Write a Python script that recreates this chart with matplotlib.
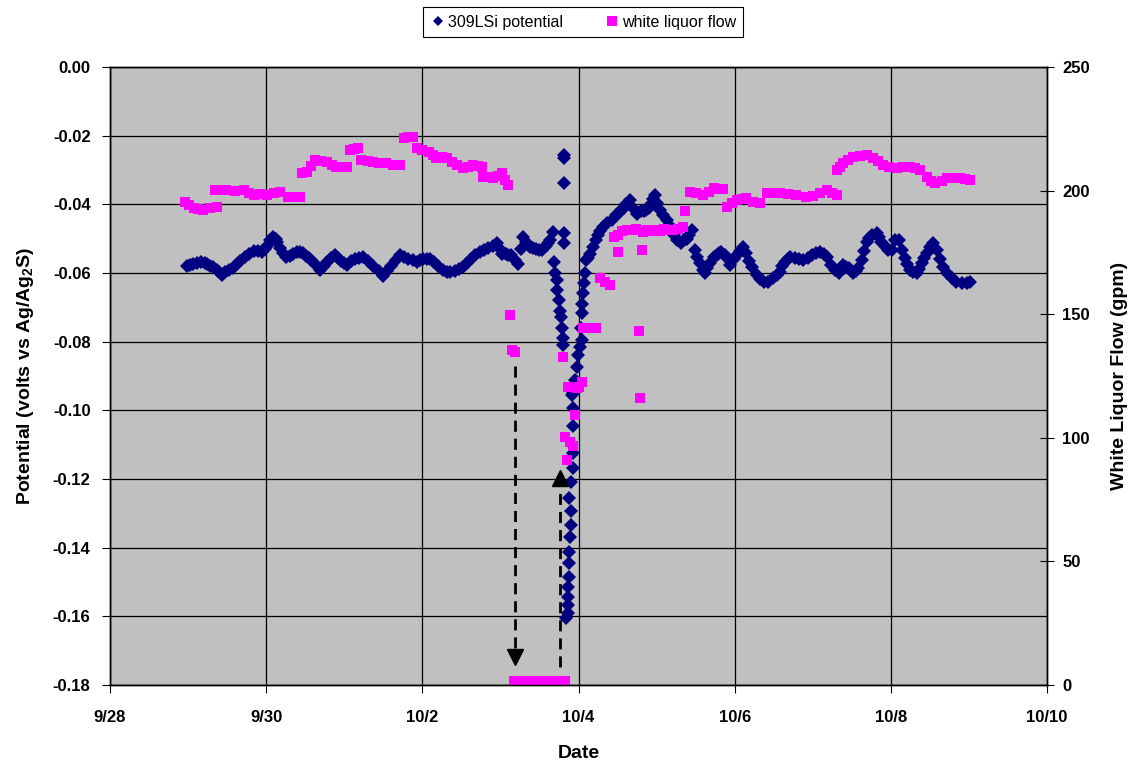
import numpy as np
import pandas as pd
import matplotlib
matplotlib.use('Agg')
import matplotlib.pyplot as plt

plt.rcParams['font.family'] = ['Liberation Sans', 'DejaVu Sans']
plt.rcParams['font.weight'] = 'bold'
plt.rcParams['axes.labelweight'] = 'bold'
plt.rcParams['mathtext.fontset'] = 'custom'
plt.rcParams['mathtext.rm'] = 'Liberation Sans:bold'
plt.rcParams['mathtext.default'] = 'rm'

#%% data, days counted from 9/28 00:00
start = pd.Timestamp('2005-09-28')

# 309LSi potential before the shutdown (volts vs Ag/Ag2S)
pot_day_a = [0.98, 1.02, 1.06, 1.11, 1.17, 1.21, 1.24, 1.28, 1.32, 1.37,
             1.40, 1.43, 1.47, 1.52, 1.57, 1.62, 1.67, 1.73, 1.78, 1.84,
             1.89, 1.94, 1.98, 2.01, 2.05, 2.09, 2.12, 2.14, 2.18, 2.22,
             2.26, 2.30, 2.34, 2.39, 2.43, 2.47, 2.51, 2.55, 2.58, 2.64,
             2.69, 2.74, 2.78, 2.83, 2.88, 2.92, 2.96, 3.00, 3.03, 3.09,
             3.14, 3.19, 3.24, 3.30, 3.37, 3.44, 3.50, 3.55, 3.60, 3.66,
             3.71, 3.77, 3.82, 3.88, 3.93, 3.97, 4.01, 4.06, 4.10, 4.15,
             4.20, 4.26, 4.31, 4.36, 4.42, 4.47, 4.52, 4.57, 4.62, 4.68,
             4.74, 4.79, 4.84, 4.90, 4.95, 4.99, 5.02, 5.07, 5.10, 5.14,
             5.19, 5.23, 5.26, 5.29, 5.33, 5.38, 5.42, 5.46, 5.50, 5.53,
             5.58, 5.61, 5.64, 5.67]
pot_volt_a = [-0.0580, -0.0578, -0.0575, -0.0570, -0.0567, -0.0570, -0.0575, -0.0580, -0.0582, -0.0592,
              -0.0598, -0.0605, -0.0598, -0.0592, -0.0584, -0.0575, -0.0565, -0.0553, -0.0545, -0.0535,
              -0.0535, -0.0538, -0.0530, -0.0520, -0.0505, -0.0496, -0.0502, -0.0510, -0.0528, -0.0542,
              -0.0553, -0.0550, -0.0545, -0.0540, -0.0538, -0.0543, -0.0550, -0.0556, -0.0562, -0.0578,
              -0.0591, -0.0580, -0.0568, -0.0556, -0.0548, -0.0556, -0.0565, -0.0572, -0.0577, -0.0566,
              -0.0560, -0.0556, -0.0553, -0.0565, -0.0580, -0.0595, -0.0608, -0.0595, -0.0580, -0.0562,
              -0.0548, -0.0553, -0.0558, -0.0563, -0.0567, -0.0563, -0.0560, -0.0558, -0.0558, -0.0568,
              -0.0580, -0.0590, -0.0598, -0.0596, -0.0594, -0.0588, -0.0582, -0.0572, -0.0560, -0.0548,
              -0.0538, -0.0533, -0.0528, -0.0521, -0.0514, -0.0530, -0.0545, -0.0545, -0.0547, -0.0548,
              -0.0562, -0.0575, -0.0530, -0.0496, -0.0510, -0.0523, -0.0527, -0.0530, -0.0532, -0.0533,
              -0.0520, -0.0512, -0.0504, -0.0480]

# potential during the dip
pot_day_b = [5.68, 5.70, 5.72, 5.73, 5.75, 5.76, 5.78, 5.79, 5.80, 5.80,
             5.81, 5.81, 5.81, 5.81, 5.81,
             5.92, 5.93, 5.93, 5.93, 5.93, 5.91, 5.88, 5.90, 5.90, 5.89,
             5.88, 5.88, 5.88, 5.86, 5.86, 5.87, 5.86, 5.84]
pot_volt_b = [-0.0567, -0.0600, -0.0620, -0.0650, -0.0680, -0.0710, -0.0727, -0.0760, -0.0790, -0.0810,
              -0.0256, -0.0266, -0.0339, -0.0483, -0.0512,
              -0.0955, -0.0994, -0.1046, -0.1125, -0.1167, -0.1208, -0.1256, -0.1292, -0.1334, -0.1368,
              -0.1412, -0.1446, -0.1485, -0.1514, -0.1543, -0.1567, -0.1591, -0.1606]

# potential after restart
pot_day_c = [5.93, 5.96, 5.98, 5.99, 6.02, 6.04, 6.03, 6.04, 6.05, 6.06,
             6.07, 6.08, 6.10, 6.12, 6.15, 6.19, 6.22, 6.25, 6.28, 6.32,
             6.37, 6.43, 6.48, 6.52, 6.55, 6.58, 6.61, 6.66, 6.70, 6.75,
             6.80, 6.84, 6.87, 6.90, 6.93, 6.96, 6.98, 7.01, 7.04, 7.08,
             7.13, 7.16, 7.19, 7.22, 7.26, 7.31, 7.35, 7.39, 7.42, 7.45,
             7.49, 7.52, 7.55, 7.59, 7.62, 7.65, 7.68, 7.73, 7.77, 7.80,
             7.83, 7.87, 7.90, 7.94, 7.99, 8.03, 8.07, 8.11, 8.15, 8.19,
             8.22, 8.28, 8.33, 8.37, 8.43, 8.49, 8.54, 8.58, 8.61, 8.64,
             8.68, 8.71, 8.77, 8.83, 8.88, 8.94, 8.99, 9.04, 9.09, 9.14,
             9.18, 9.24, 9.29, 9.33, 9.36, 9.39, 9.43, 9.46, 9.52, 9.55,
             9.58, 9.63, 9.66, 9.69, 9.72, 9.76, 9.82, 9.85, 9.88, 9.93,
             9.97, 10.01, 10.05, 10.10, 10.14, 10.18, 10.21, 10.24, 10.29, 10.33,
             10.36, 10.40, 10.43, 10.46, 10.50, 10.54, 10.59, 10.63, 10.67, 10.72,
             10.78, 10.84, 10.91, 10.97, 11.01]
pot_volt_c = [-0.0950, -0.0912, -0.0873, -0.0840, -0.0815, -0.0795, -0.0760, -0.0717, -0.0690, -0.0659,
              -0.0630, -0.0600, -0.0562, -0.0555, -0.0545, -0.0523, -0.0505, -0.0490, -0.0478, -0.0465,
              -0.0455, -0.0446, -0.0430, -0.0424, -0.0417, -0.0410, -0.0400, -0.0387, -0.0410, -0.0427,
              -0.0420, -0.0418, -0.0417, -0.0410, -0.0400, -0.0385, -0.0373, -0.0395, -0.0417, -0.0430,
              -0.0446, -0.0460, -0.0475, -0.0490, -0.0504, -0.0514, -0.0505, -0.0500, -0.0488, -0.0475,
              -0.0533, -0.0552, -0.0570, -0.0590, -0.0601, -0.0585, -0.0572, -0.0553, -0.0548, -0.0543,
              -0.0538, -0.0548, -0.0557, -0.0577, -0.0560, -0.0548, -0.0535, -0.0523, -0.0543, -0.0565,
              -0.0582, -0.0606, -0.0618, -0.0625, -0.0625, -0.0616, -0.0606, -0.0596, -0.0580, -0.0567,
              -0.0558, -0.0553, -0.0557, -0.0560, -0.0562, -0.0555, -0.0548, -0.0543, -0.0538, -0.0546,
              -0.0553, -0.0577, -0.0590, -0.0601, -0.0590, -0.0577, -0.0582, -0.0586, -0.0601, -0.0594,
              -0.0586, -0.0562, -0.0535, -0.0509, -0.0498, -0.0489, -0.0484, -0.0496, -0.0509, -0.0521,
              -0.0533, -0.0533, -0.0504, -0.0504, -0.0533, -0.0557, -0.0575, -0.0591, -0.0598, -0.0601,
              -0.0588, -0.0572, -0.0557, -0.0543, -0.0523, -0.0514, -0.0533, -0.0558, -0.0582, -0.0601,
              -0.0616, -0.0625, -0.0630, -0.0630, -0.0625]

# white liquor flow before the shutdown (gpm)
flow_day_a = [0.96, 1.01, 1.07, 1.13, 1.19, 1.28, 1.37,
              1.34, 1.42, 1.49, 1.60, 1.71, 1.78, 1.84, 1.92, 2.01, 2.10, 2.18, 2.28, 2.36, 2.43,
              2.46, 2.52, 2.58, 2.63, 2.70, 2.78, 2.84, 2.90, 2.97, 3.03,
              3.07, 3.13, 3.18, 3.22, 3.30, 3.37, 3.45, 3.54, 3.62, 3.71,
              3.76, 3.82, 3.88, 3.93, 4.00, 4.08, 4.13, 4.18, 4.25, 4.31,
              4.38, 4.44, 4.52, 4.58, 4.65, 4.71, 4.76, 4.78, 4.85, 4.91,
              4.97, 5.02, 5.06, 5.10]
flow_gpm_a = [195.5, 194.0, 192.8, 192.5, 192.2, 192.8, 193.5,
              200.2, 200.2, 200.2, 200.0, 200.2, 199.0, 198.2, 198.5, 198.2, 199.0, 199.6, 197.5, 197.5, 197.5,
              207.0, 207.7, 210.0, 212.4, 212.0, 211.7, 210.5, 209.7, 209.7, 209.7,
              216.4, 217.0, 217.1, 212.4, 212.0, 211.7, 211.3, 211.0, 210.5, 210.3,
              221.1, 221.5, 221.8, 217.1, 216.4, 215.7, 214.4, 213.1, 213.5, 213.1,
              211.5, 210.3, 209.0, 209.5, 210.3, 210.0, 209.7, 205.6, 205.3, 205.0,
              206.0, 207.0, 204.3, 202.3]

# flow during the shutdown
flow_day_b = [5.12, 5.15, 5.19,
              5.17, 5.20, 5.23, 5.26, 5.29, 5.32, 5.35, 5.38, 5.41, 5.44, 5.47, 5.50,
              5.53, 5.56, 5.59, 5.62, 5.65, 5.68, 5.71, 5.74, 5.77, 5.80, 5.83]
flow_gpm_b = [149.5, 135.5, 134.8,
              1.5, 1.5, 1.5, 1.5, 1.5, 1.5, 1.5, 1.5, 1.5, 1.5, 1.5, 1.5,
              1.5, 1.5, 1.5, 1.5, 1.5, 1.5, 1.5, 1.5, 1.5, 1.5, 1.5]

# flow after restart
flow_day_c = [5.80, 5.83, 5.85, 5.87, 5.89, 5.93, 5.96, 5.98, 6.01, 6.04,
              6.06, 6.10, 6.15, 6.23, 6.28, 6.34, 6.40, 6.45, 6.51, 6.50,
              6.56, 6.62, 6.68, 6.74, 6.77, 6.79, 6.81, 6.83, 6.88, 6.94,
              7.00, 7.04, 7.10, 7.16, 7.21, 7.27, 7.34, 7.36, 7.43, 7.51,
              7.60, 7.67, 7.73, 7.80, 7.85, 7.90, 7.97, 8.03, 8.10, 8.15,
              8.24, 8.32, 8.41, 8.50, 8.58, 8.68, 8.79, 8.92, 9.00, 9.09,
              9.18, 9.25, 9.31, 9.31, 9.35, 9.39, 9.45, 9.52, 9.60, 9.69,
              9.77, 9.83, 9.90, 9.98, 10.08, 10.16, 10.25, 10.31, 10.37, 10.46,
              10.52, 10.57, 10.65, 10.72, 10.80, 10.89, 10.95, 11.01]
flow_gpm_c = [132.7, 100.4, 91.0, 120.7, 98.4, 96.8, 109.2, 120.0, 120.5, 122.7,
              144.3, 144.3, 144.3, 144.3, 164.5, 163.0, 161.8, 181.4, 175.3, 182.0,
              183.5, 184.1, 184.0, 184.5, 143.3, 116.2, 176.0, 183.4, 184.0, 183.5,
              184.0, 183.8, 184.5, 184.0, 184.1, 184.5, 185.4, 191.7, 199.6, 199.0,
              198.2, 199.5, 200.9, 200.6, 200.6, 193.5, 195.0, 196.2, 196.5, 196.9,
              195.5, 194.8, 198.9, 198.9, 198.9, 198.5, 198.2, 197.5, 198.0, 198.9,
              200.2, 199.0, 198.2, 208.3, 209.5, 211.0, 212.5, 213.7, 214.0, 214.4,
              213.1, 212.0, 210.3, 209.5, 209.0, 209.5, 209.7, 209.0, 208.3, 205.6,
              204.0, 202.9, 204.0, 205.0, 205.0, 205.0, 204.5, 204.3]

left_ticks = [-0.18, -0.16, -0.14, -0.12, -0.10, -0.08, -0.06, -0.04, -0.02, 0.00]
right_ticks = [0, 50, 100, 150, 200, 250]
date_ticks = pd.date_range(start, periods=7, freq='2D')


def to_dates(days):
    return start + pd.to_timedelta(np.asarray(days), unit='D')


#%% plot
fig = plt.figure(figsize=(11.31, 7.63), dpi=100)
ax1 = fig.add_axes([0.0973, 0.1022, 0.8284, 0.81])
ax1.set_facecolor('#C0C0C0')

pot_day = pot_day_a + pot_day_b + pot_day_c
pot_volt = pot_volt_a + pot_volt_b + pot_volt_c
ax1.plot(to_dates(pot_day), pot_volt, 'D', color='#000080', ms=7.2, mew=0,
         label='309LSi potential')

ax1.set_ylim(-0.18, 0.0)
ax1.set_yticks(left_ticks)
ax1.set_yticklabels([f"{t:.2f}" for t in left_ticks])
ax1.set_xlim(start, start + pd.Timedelta(days=12))
ax1.set_xticks(date_ticks)
ax1.set_xticklabels([f"{d.month}/{d.day}" for d in date_ticks])
ax1.grid(True, color='black', lw=0.9)
ax1.set_axisbelow(True)
ax1.tick_params(axis='y', direction='out', length=6, labelsize=12, pad=8)
ax1.tick_params(axis='x', direction='out', length=6, labelsize=12, pad=12)
ax1.set_xlabel('Date', fontsize=14)
ax1.set_ylabel('Potential (volts vs Ag/Ag$_2$S)', fontsize=14)
ax1.xaxis.set_label_coords(0.5, -0.097)
ax1.yaxis.set_label_coords(-0.079, 0.5)

ax2 = ax1.twinx()
flow_day = flow_day_a + flow_day_b + flow_day_c
flow_gpm = flow_gpm_a + flow_gpm_b + flow_gpm_c
ax2.plot(to_dates(flow_day), flow_gpm, 's', color='#FF00FF', ms=7.6, mew=0,
         label='white liquor flow')
ax2.set_ylim(0, 250)
ax2.set_yticks(right_ticks)
ax2.tick_params(axis='y', direction='inout', length=10, labelsize=12, pad=6)
ax2.set_ylabel('White Liquor Flow (gpm)', fontsize=14)
ax2.yaxis.set_label_coords(1.068, 0.5)

# dashed arrows: flow cut off, then restarted
x_down = start + pd.Timedelta(days=5.19)
x_up = start + pd.Timedelta(days=5.76)
ax2.plot([x_down, x_down], [129, 14], 'k', lw=2, dashes=(4, 2.5))
ax2.plot([x_down], [11.2], 'kv', ms=12)
ax2.plot([x_up, x_up], [7.4, 80], 'k', lw=2, dashes=(4, 2.5))
ax2.plot([x_up], [83.8], 'k^', ms=12)

for ax in (ax1, ax2):
    for s in ax.spines.values():
        s.set_color('black')
        s.set_linewidth(1.0)

h1, l1 = ax1.get_legend_handles_labels()
h2, l2 = ax2.get_legend_handles_labels()
leg = fig.legend(h1 + h2, l1 + l2, loc='center', bbox_to_anchor=(0.5155, 0.971),
                 ncol=2, fancybox=False, framealpha=1, edgecolor='black',
                 prop={'size': 11.5, 'weight': 'normal'}, handletextpad=0.1,
                 columnspacing=2.6, handlelength=1.0, borderpad=0.45)
leg.legend_handles[0].set_markersize(5.5)
leg.legend_handles[1].set_markersize(7.0)
leg.get_frame().set_linewidth(0.8)

fig.savefig('out.png', dpi=100)
